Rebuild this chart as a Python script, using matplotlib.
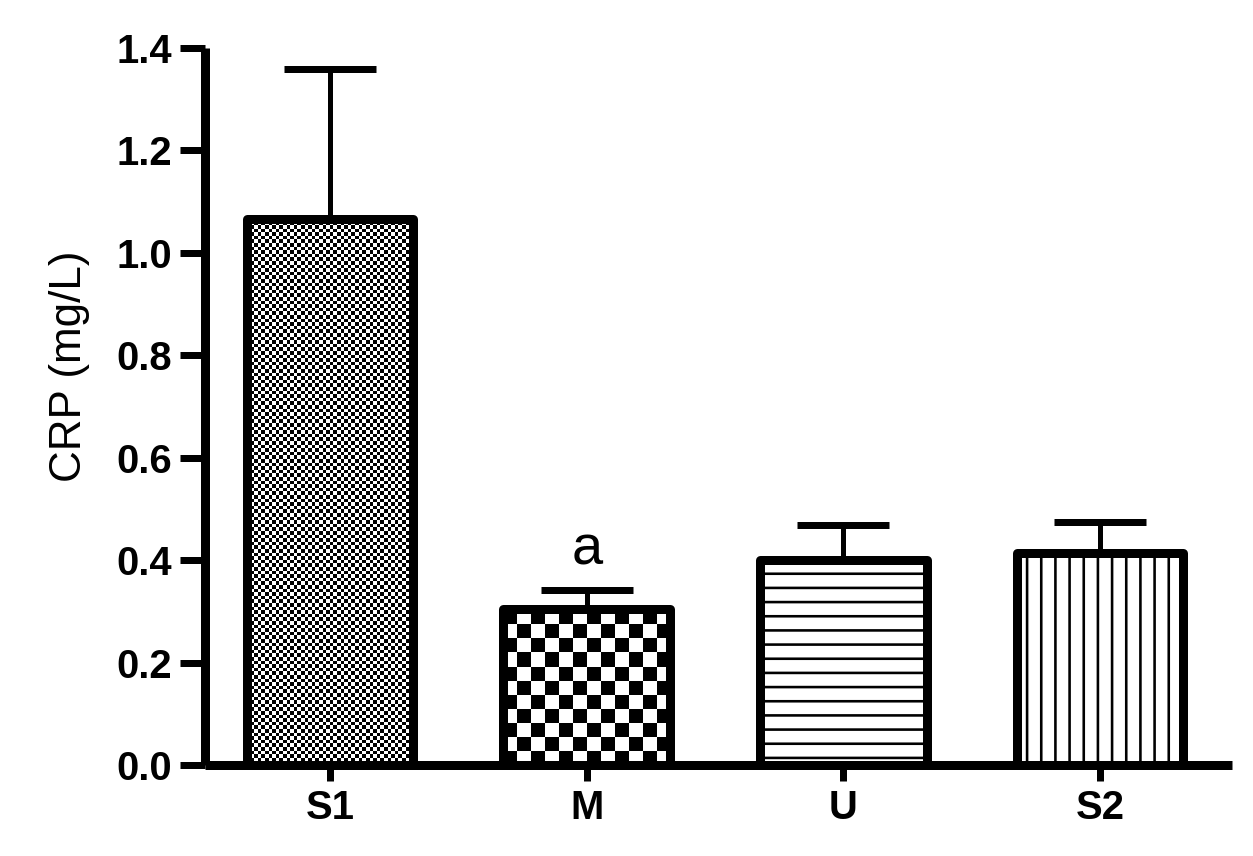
import numpy as np
import matplotlib
matplotlib.use("Agg")
import matplotlib.pyplot as plt

categories = ["S1", "M", "U", "S2"]
means = [1.066, 0.305, 0.400, 0.414]
sems = [0.293, 0.036, 0.069, 0.061]
yticks = [0.0, 0.2, 0.4, 0.6, 0.8, 1.0, 1.2, 1.4]
annot_text = "a"

DPI = 85
def P(px):
    return px * 72.0 / DPI

plt.rcParams['font.family'] = ['Liberation Sans', 'DejaVu Sans']
plt.rcParams['hatch.linewidth'] = P(2.6)

fig = plt.figure(figsize=(1253 / DPI, 856 / DPI), dpi=DPI)
ax = fig.add_axes([205 / 1253, 91 / 856, 1027 / 1253, 717 / 856])

x = np.arange(len(categories))
width = 0.65
xlim = (-0.487, 3.514)
ylim = (0, 1.4)
ax.set_xlim(*xlim)
ax.set_ylim(*ylim)

hatches = [None, None, '-', '|']
faces = ['none', 'none', 'white', 'white']
bars = ax.bar(x, means, width=width, color='white', edgecolor='black',
              linewidth=P(9), zorder=2)
for b, h, fc in zip(bars, hatches, faces):
    b.set_joinstyle('round')
    b.set_facecolor(fc)
    if h:
        b.set_hatch(h)

# checkerboard fills for the first two bars
fig.canvas.draw()
ext = ax.get_window_extent()
px_x = ext.width / (xlim[1] - xlim[0])
px_y = ext.height / (ylim[1] - ylim[0])
for b, sq in [(bars[0], 3.6), (bars[1], 14.0)]:
    x0, y0 = b.get_x(), b.get_y()
    w, h = b.get_width(), b.get_height()
    nx = max(1, int(np.ceil(w * px_x / sq)))
    ny = max(1, int(np.ceil(h * px_y / sq)))
    arr = (np.add.outer(np.arange(ny), np.arange(nx)) % 2).astype(float)
    im = ax.imshow(arr, cmap='gray', extent=[x0, x0 + nx * sq / px_x,
                                            y0, y0 + ny * sq / px_y],
                   origin='lower', interpolation='nearest', aspect='auto',
                   zorder=1.5, vmin=0, vmax=1)
    im.set_clip_path(b)

ax.set_xlim(*xlim)
ax.set_ylim(*ylim)

ax.errorbar(x, means, yerr=[np.zeros(len(sems)), sems], fmt='none',
            ecolor='black', elinewidth=P(5), capsize=P(46), capthick=P(7),
            zorder=1)

ax.text(x[1], means[1] + sems[1] + 0.05, annot_text, ha='center',
        va='baseline', fontsize=P(56))

for s in ['top', 'right']:
    ax.spines[s].set_visible(False)
for s in ['left', 'bottom']:
    ax.spines[s].set_linewidth(P(9))
    ax.spines[s].set_capstyle('butt')

ax.set_yticks(yticks)
ax.set_yticklabels([f"{v:.1f}" for v in yticks], fontsize=P(40),
                   fontweight='bold')
ax.set_xticks(x)
ax.set_xticklabels(categories, fontsize=P(40), fontweight='bold')
ax.tick_params(axis='y', length=P(25), width=P(7), pad=P(8))
ax.tick_params(axis='x', length=P(16), width=P(7), pad=P(8))
ax.set_ylabel("CRP (mg/L)", fontsize=P(44))
ax.yaxis.set_label_coords(-0.112, 0.556)

fig.savefig("out.png", dpi=DPI)
